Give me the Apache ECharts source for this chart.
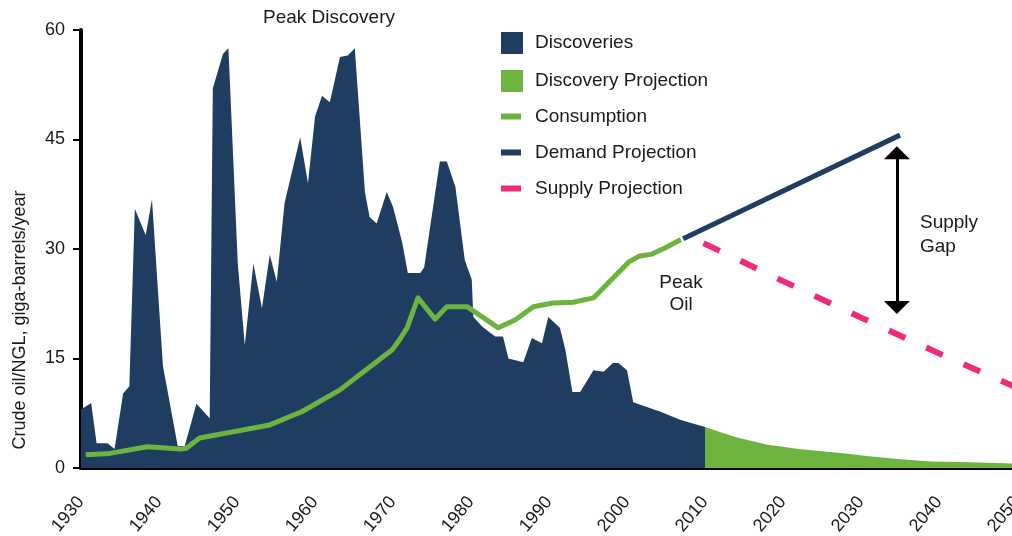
<!DOCTYPE html>
<html>
  <head>
    <meta charset="utf-8" />
    <title>Oil discoveries vs consumption</title>
    <script src="https://cdn.jsdelivr.net/npm/echarts@6/dist/echarts.min.js"></script>
  </head>
  <body style="margin: 0">
    <div id="main" style="width: 1012px; height: 536px"></div>
    <script type="text/javascript">
      // data (year, giga-barrels/year)
      var discYears = [1930, 1931.3, 1932, 1933.4, 1934.3, 1935.4, 1936.2, 1936.9, 1938.3, 1939.1,
        1940.5, 1942.4, 1943.3, 1944.8, 1946.5, 1946.9, 1948.2, 1948.9, 1950.1, 1951,
        1952.1, 1953.2, 1954.2, 1955.1, 1956.1, 1958.1, 1959.1, 1960, 1960.9, 1961.9,
        1963.2, 1964.2, 1965.1, 1966.4, 1967, 1967.9, 1969.2, 1970, 1971.2, 1971.9,
        1973.5, 1974, 1976, 1976.9, 1978, 1979.2, 1980.1, 1980.3, 1981.5, 1983.1,
        1984.1, 1984.8, 1986.7, 1987.8, 1989.1, 1989.9, 1991.4, 1992.1, 1993, 1994,
        1995.7, 1997, 1998.2, 1998.9, 2000, 2000.8, 2003, 2004.3, 2006.8, 2008.1, 2010];
      var discValues = [8, 8.9, 3.4, 3.4, 2.6, 10.2, 11.2, 35.5, 31.9, 36.8,
        14, 3, 3, 8.8, 6.8, 52, 56.7, 57.5, 28, 16.8,
        28, 21.9, 29.2, 25.5, 36.3, 45.3, 39, 48.1, 51, 50.1,
        56.3, 56.5, 57.5, 37.8, 34.4, 33.5, 37.8, 35.8, 30.8, 26.7,
        26.7, 27.5, 42, 42, 38.5, 28.5, 25.8, 20.7, 19.3, 18,
        18, 15, 14.5, 17.8, 17.1, 20.7, 19.2, 16.2, 10.4, 10.4,
        13.4, 13.2, 14.4, 14.4, 13.4, 9, 8.2, 7.7, 6.6, 6.2, 5.6];

      var projYears = [2010, 2012, 2014, 2016, 2018, 2020, 2022, 2025, 2028, 2031, 2035, 2039, 2044, 2050];
      var projValues = [5.6, 4.9, 4.2, 3.7, 3.2, 2.9, 2.6, 2.3, 2.0, 1.6, 1.2, 0.9, 0.8, 0.6];

      var consYears = [1930.6, 1933.7, 1938.5, 1942.7, 1943.5, 1945.2, 1954.2, 1958.3, 1963.2, 1969.9,
        1970.8, 1971.8, 1973.2, 1975.4, 1976.9, 1979.5, 1983.5, 1985.7, 1988, 1990.5,
        1993.1, 1995.7, 2000.2, 2001.5, 2003.2, 2005, 2006.9];
      var consValues = [1.8, 2.0, 2.9, 2.6, 2.7, 4.1, 5.9, 7.7, 10.7, 16.2,
        17.5, 19.2, 23.3, 20.4, 22.1, 22.1, 19.2, 20.3, 22.1, 22.6,
        22.7, 23.3, 28.2, 29.0, 29.3, 30.2, 31.3];

      var demandYears = [2007.2, 2035];
      var demandValues = [31.4, 45.6];

      var supplyYears = [2009.8, 2020, 2030, 2040, 2050];
      var supplyValues = [30.8, 25.6, 20.6, 15.7, 11.0];

      var gapYear = 2034.6;
      var gapTop = 43.2;
      var gapBottom = 22.0;

      var yTicks = [0, 15, 30, 45, 60];

      function zip(xs, ys) {
        return xs.map(function (x, i) {
          return [x, ys[i]];
        });
      }

      var NAVY = "#1f3d60";
      var GREEN = "#6cb33f";
      var PINK = "#ee2a7b";
      var INK = "#1a1a1a";
      var FONT = "'Liberation Sans', Arial, sans-serif";

      var myChart = echarts.init(document.getElementById("main"));

      function legendAt(name, top, square) {
        return {
          left: 501,
          top: top,
          padding: 0,
          orient: "vertical",
          icon: "rect",
          itemWidth: square ? 22 : 20,
          itemHeight: square ? 22 : 6,
          itemStyle: { borderWidth: 0 },
          selectedMode: false,
          textStyle: {
            fontFamily: FONT,
            fontSize: 19,
            color: INK,
            padding: [0, 0, 0, square ? 7 : 9],
          },
          data: [name],
        };
      }

      var option = {
        animation: false,
        title: {
          text: "Peak Discovery",
          left: 263,
          top: 8,
          padding: 0,
          textStyle: { fontFamily: FONT, fontSize: 19, fontWeight: "normal", color: INK },
        },
        legend: [
          legendAt("Discoveries", 32, true),
          legendAt("Discovery Projection", 70, true),
          legendAt("Consumption", 107, false),
          legendAt("Demand Projection", 143, false),
          legendAt("Supply Projection", 179, false),
        ],
        grid: { left: 81, right: -5, top: 30, bottom: 68, outerBoundsMode: "none" },
        xAxis: {
          type: "value",
          min: 1930,
          max: 2050,
          interval: 10,
          splitLine: { show: false },
          axisTick: { show: false },
          axisLine: { lineStyle: { color: "#000", width: 4 } },
          axisLabel: {
            rotate: 50,
            margin: 31,
            fontFamily: FONT,
            fontSize: 18,
            color: INK,
            formatter: function (v) {
              return String(v);
            },
          },
        },
        yAxis: {
          type: "value",
          min: yTicks[0],
          max: yTicks[yTicks.length - 1],
          interval: 15,
          splitLine: { show: false },
          axisLine: { show: true, lineStyle: { color: "#000", width: 4 } },
          axisTick: { show: true, length: 8, lineStyle: { color: "#000", width: 2 } },
          axisLabel: { margin: 16, fontFamily: FONT, fontSize: 18, color: INK },
        },
        graphic: [
          {
            type: "text",
            x: 20,
            y: 320,
            rotation: Math.PI / 2,
            style: {
              text: "Crude oil/NGL, giga-barrels/year",
              font: "18px " + FONT,
              fill: INK,
              align: "center",
              verticalAlign: "middle",
            },
          },
          {
            type: "text",
            x: 681,
            y: 294,
            style: {
              text: "Peak\nOil",
              font: "19px " + FONT,
              lineHeight: 22,
              fill: INK,
              align: "center",
              verticalAlign: "middle",
            },
          },
          {
            type: "text",
            x: 920,
            y: 235,
            style: {
              text: "Supply\nGap",
              font: "19px " + FONT,
              lineHeight: 24,
              fill: INK,
              align: "left",
              verticalAlign: "middle",
            },
          },
        ],
        series: [
          {
            name: "Discoveries",
            type: "line",
            showSymbol: false,
            silent: true,
            itemStyle: { color: NAVY },
            lineStyle: { width: 0 },
            areaStyle: { color: NAVY, opacity: 1 },
            data: zip(discYears, discValues),
          },
          {
            name: "Discovery Projection",
            type: "line",
            showSymbol: false,
            silent: true,
            itemStyle: { color: GREEN },
            lineStyle: { width: 0 },
            areaStyle: { color: GREEN, opacity: 1 },
            data: zip(projYears, projValues),
          },
          {
            name: "Consumption",
            type: "line",
            showSymbol: false,
            silent: true,
            itemStyle: { color: GREEN },
            lineStyle: { color: GREEN, width: 5, join: "round" },
            data: zip(consYears, consValues),
          },
          {
            name: "Demand Projection",
            type: "line",
            showSymbol: false,
            silent: true,
            itemStyle: { color: NAVY },
            lineStyle: { color: NAVY, width: 5 },
            data: zip(demandYears, demandValues),
            markLine: {
              silent: true,
              symbol: ["triangle", "triangle"],
              symbolSize: [26, 13],
              label: { show: false },
              lineStyle: { color: "#000", width: 3, type: "solid" },
              data: [[{ coord: [gapYear, gapTop] }, { coord: [gapYear, gapBottom] }]],
            },
          },
          {
            name: "Supply Projection",
            type: "line",
            showSymbol: false,
            silent: true,
            itemStyle: { color: PINK },
            lineStyle: { color: PINK, width: 6, type: [18, 23] },
            data: zip(supplyYears, supplyValues),
          },
        ],
      };
      myChart.setOption(option);
    </script>
  </body>
</html>
